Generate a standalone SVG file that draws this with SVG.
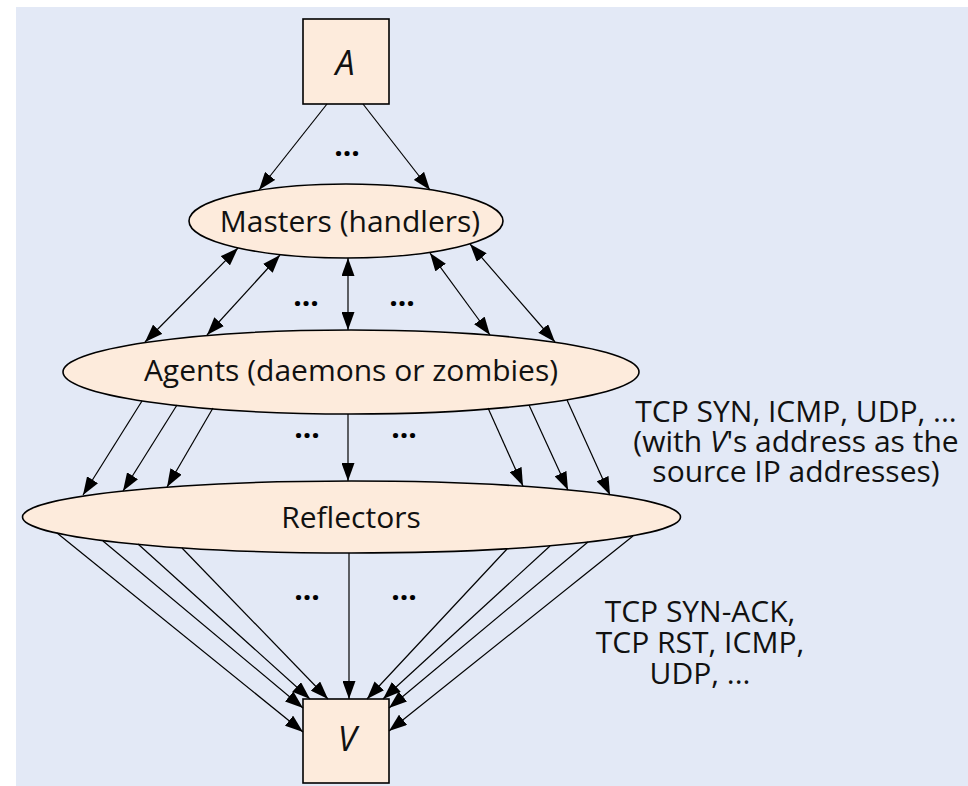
<svg xmlns="http://www.w3.org/2000/svg" width="968" height="786" viewBox="0 0 968 786">
<style>
.node{fill:#fdebdc;stroke:#000;stroke-width:1.6}
.lbl{font-family:"Open Sans","Noto Sans",sans-serif;font-size:30px;fill:#111;text-anchor:middle}
.big{font-size:34px}
.it{font-style:italic}
.dots{font-family:"Open Sans","Noto Sans",sans-serif;font-size:30px;font-weight:bold;fill:#000;text-anchor:middle}
.c path{fill:none;stroke:#000;stroke-width:1.2}
.one{marker-end:url(#ah)}
.two{marker-start:url(#ah);marker-end:url(#ah)}
</style>
<defs>
<marker id="ah" viewBox="0 0 18 13" refX="18" refY="6.5" markerWidth="18" markerHeight="13" markerUnits="userSpaceOnUse" orient="auto-start-reverse">
<path d="M0,0 L18,6.5 L0,13 z" fill="#000"/>
</marker>
</defs>
<rect x="0" y="0" width="968" height="786" fill="#ffffff"/>
<rect x="16" y="7" width="952" height="779" fill="#e3e9f6"/>

<g id="nodeA">
<rect class="node" x="303" y="19" width="86" height="85"/>
<text class="lbl big it" x="345" y="75">A</text>
</g>
<g id="masters">
<ellipse class="node" cx="346" cy="221" rx="157" ry="37"/>
<text class="lbl" x="350" y="232">Masters (handlers)</text>
</g>
<g id="agents">
<ellipse class="node" cx="351" cy="372" rx="288" ry="42"/>
<text class="lbl" x="351" y="381">Agents (daemons or zombies)</text>
</g>
<g id="reflectors">
<ellipse class="node" cx="351.5" cy="517" rx="329" ry="36"/>
<text class="lbl" x="351" y="528">Reflectors</text>
</g>
<g id="nodeV">
<rect class="node" x="303" y="699" width="86" height="84"/>
<text class="lbl big it" x="347" y="751">V</text>
</g>

<g id="connectors" class="c">
<path class="one" d="M327,104 L259,190"/>
<path class="one" d="M363,104 L430,190"/>

<path class="two" d="M238,248 L145,342"/>
<path class="two" d="M280,255 L207,335"/>
<path class="two" d="M348,258 L348,330"/>
<path class="two" d="M430,253 L490,335"/>
<path class="two" d="M470,244 L555,342"/>

<path class="one" d="M142,401 L83,495"/>
<path class="one" d="M177,405 L123,491"/>
<path class="one" d="M213,408 L167,487"/>
<path class="one" d="M348,414 L348,481"/>
<path class="one" d="M488,408 L523,486"/>
<path class="one" d="M529,405 L568,490"/>
<path class="one" d="M567,400 L610,495"/>

<path class="one" d="M57,533 L303,732"/>
<path class="one" d="M103,541 L303,708"/>
<path class="one" d="M138,544 L310,699"/>
<path class="one" d="M182,548 L328,699"/>
<path class="one" d="M349,553 L349,699"/>
<path class="one" d="M507,549 L367,699"/>
<path class="one" d="M550,546 L383,699"/>
<path class="one" d="M588,542 L389,708"/>
<path class="one" d="M633,536 L389,731"/>
</g>

<g id="dots">
<text class="dots" x="347" y="156">...</text>
<text class="dots" x="306" y="306">...</text>
<text class="dots" x="402" y="306">...</text>
<text class="dots" x="307" y="438">...</text>
<text class="dots" x="404" y="438">...</text>
<text class="dots" x="307" y="600">...</text>
<text class="dots" x="404" y="600">...</text>
</g>

<g id="label1">
<text class="lbl" x="796" y="422">TCP SYN, ICMP, UDP, ...</text>
<text class="lbl" x="796" y="452">(with <tspan class="it">V</tspan>'s address as the</text>
<text class="lbl" x="796" y="482">source IP addresses)</text>
</g>
<g id="label2">
<text class="lbl" x="700" y="622">TCP SYN-ACK,</text>
<text class="lbl" x="700" y="653">TCP RST, ICMP,</text>
<text class="lbl" x="700" y="684">UDP, ...</text>
</g>
</svg>
